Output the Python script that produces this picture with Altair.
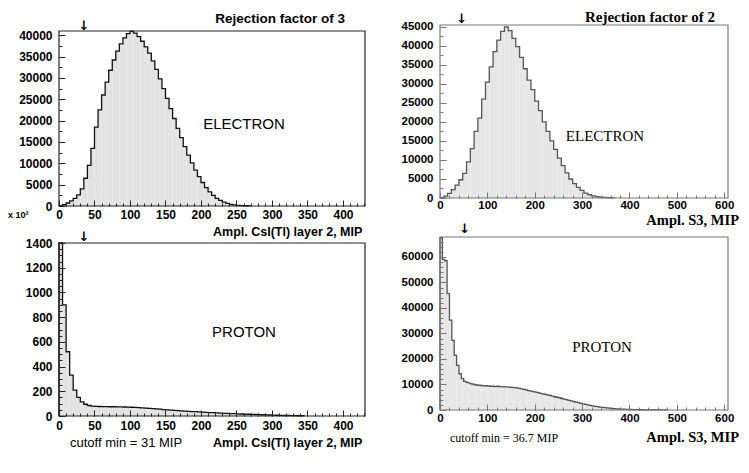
import altair as alt
import pandas as pd

# ---------------- data ----------------
# top-left: ELECTRON, Ampl. CsI(Tl) layer 2 (bin width 5 MIP)
tl_bin = 5
tl_counts = [100, 300, 700, 1200, 1800, 2600, 4000, 6500, 9500, 13500,
             18500, 22500, 26000, 29000, 31800, 34200, 36300, 38000, 39400, 40400,
             40900, 40500, 39700, 38600, 37300, 35800, 34000, 32000, 29800, 27500,
             25200, 22800, 20500, 18200, 16000, 13900, 11900, 10100, 8400, 6900,
             5500, 4300, 3300, 2500, 1800, 1300, 900, 600, 400, 260,
             160, 100, 60, 30]

# bottom-left: PROTON, Ampl. CsI(Tl) layer 2 (x 10^2, bin width 5 MIP)
bl_bin = 5
bl_counts = [1400, 900, 520, 330, 210, 150, 115, 95, 85, 80,
             78, 77, 76, 76, 75, 75, 74, 74, 73, 72,
             71, 70, 68, 66, 64, 62, 60, 57, 55, 52,
             50, 48, 46, 44, 42, 40, 38, 36, 35, 33,
             32, 30, 28, 27, 25, 24, 22, 21, 20, 19,
             18, 16, 15, 14, 13, 12, 11, 10, 9, 8,
             7, 6, 5, 4, 4, 3, 3, 2, 2]

# top-right: ELECTRON, Ampl. S3 (bin width 8 MIP)
tr_bin = 8
tr_counts = [100, 500, 1200, 2200, 3400, 4800, 6500, 9500, 13000, 17500,
             21000, 26000, 30500, 34500, 38500, 41500, 43800, 45000, 44000, 42000,
             39800, 37000, 34000, 31000, 28500, 25500, 23000, 20000, 17500, 15000,
             12800, 10500, 8500, 6600, 5000, 3800, 2800, 2000, 1300, 850,
             550, 350, 250, 150, 100, 50]

# bottom-right: PROTON, Ampl. S3 (bin width 5 MIP)
br_bin = 5
br_counts = [67500, 59000, 58500, 45600, 35200, 27300, 21400, 17500, 14200, 12300,
             11200, 10800, 10500, 10200, 10000, 9800, 9700, 9600, 9500, 9500,
             9400, 9300, 9300, 9200, 9300, 9200, 9200, 9100, 9100, 9000,
             8900, 8800, 8700, 8500, 8300, 8100, 7900, 7600, 7400, 7200,
             7000, 6800, 6500, 6300, 6100, 5900, 5700, 5400, 5200, 5000,
             4800, 4500, 4300, 4100, 3800, 3600, 3300, 3100, 2900, 2600,
             2400, 2200, 2000, 1800, 1600, 1450, 1300, 1150, 1000, 900,
             800, 700, 600, 520, 450, 400, 350, 300, 260, 220,
             190, 160, 140, 120, 100, 90, 80, 70, 60, 50,
             40, 35, 30, 25, 20, 10]

left_x_ticks = [0, 50, 100, 150, 200, 250, 300, 350, 400]
left_x_minor = list(range(0, 431, 10))
right_x_ticks = [0, 100, 200, 300, 400, 500, 600]
right_x_minor = list(range(0, 609, 20))
tl_y_ticks = [0, 5000, 10000, 15000, 20000, 25000, 30000, 35000, 40000]
tl_y_minor = list(range(0, 41001, 2500))
bl_y_ticks = [0, 200, 400, 600, 800, 1000, 1200, 1400]
bl_y_minor = list(range(0, 1401, 50))
tr_y_ticks = [0, 5000, 10000, 15000, 20000, 25000, 30000, 35000, 40000, 45000]
tr_y_minor = list(range(0, 45501, 2500))
br_y_ticks = [0, 10000, 20000, 30000, 40000, 50000, 60000]
br_y_minor = list(range(0, 67801, 2000))

# cutoff arrows (positions, MIP)
tl_arrow, bl_arrow, tr_arrow, br_arrow = 35, 35, 46, 52

SANS = "Liberation Sans"
SERIF = "Liberation Serif"
W, H = 733, 457


def text_layer(t, x, y, font, size, weight="normal", align="center"):
    return alt.Chart(pd.DataFrame({"t": [t]})).mark_text(
        font=font, fontSize=size, fontWeight=weight, align=align,
        baseline="middle", color="black"
    ).encode(text="t:N", x=alt.value(x), y=alt.value(y))


def panel(bin_w, counts, xmax, ymax, box, xmaj, xmin, ymaj, ymin,
          line_c, fill_c, frame_c, arrow_x, arrow_y, xlab_pad, lab_size):
    x0, y0, x1, y1 = box  # view pixels: left, top, right, bottom
    xs = [0] + [i * bin_w for i in range(len(counts))] + [len(counts) * bin_w]
    ys = [0] + counts + [0]
    df = pd.DataFrame({"x": xs, "y": ys, "i": list(range(len(xs)))})
    xsc = alt.Scale(domain=[0, xmax], range=[x0, x1], nice=False, zero=False)
    ysc = alt.Scale(domain=[0, ymax], range=[y1, y0], nice=False, zero=False)
    common = dict(labelFont=SANS, labelFontWeight="bold", labelFontSize=lab_size,
                  labelColor="black", domain=False, grid=False, title=None,
                  tickColor=frame_c, zindex=1, labelFlush=False)
    xa = alt.Axis(values=xmaj, tickSize=6, offset=y1 - 6 - H, labelPadding=xlab_pad,
                  orient="bottom", **common)
    ya = alt.Axis(values=ymaj, tickSize=6, offset=-(x0 + 6), labelPadding=7,
                  orient="left", format="d", **common)
    mcommon = dict(labels=False, domain=False, grid=False, title=None,
                   tickColor=frame_c, zindex=1, tickSize=3)
    xma = alt.Axis(values=xmin, offset=y1 - 3 - H, orient="bottom", **mcommon)
    yma = alt.Axis(values=ymin, offset=-(x0 + 3), orient="left", **mcommon)

    base = alt.Chart(df)
    area = base.mark_area(interpolate="step-after", color=fill_c).encode(
        x=alt.X("x:Q", scale=xsc, axis=xa),
        y=alt.Y("y:Q", scale=ysc, axis=ya),
        order="i:Q")
    line = base.mark_line(interpolate="step-after", color=line_c,
                          strokeWidth=1.3).encode(
        x=alt.X("x:Q", scale=xsc, axis=None),
        y=alt.Y("y:Q", scale=ysc, axis=None), order="i:Q")
    frame = alt.Chart(pd.DataFrame({"a": [0], "b": [xmax], "c": [0], "d": [ymax]})).mark_rect(
        fillOpacity=0, stroke=frame_c, strokeWidth=1.2).encode(
        x=alt.X("a:Q", scale=xsc, axis=xma), x2="b:Q",
        y=alt.Y("c:Q", scale=ysc, axis=yma), y2="d:Q")
    arrow = alt.Chart(pd.DataFrame({"x": [arrow_x]})).mark_text(
        text="↓", font="DejaVu Sans", fontSize=13, fontWeight="bold",
        baseline="middle", color="black"
    ).encode(x=alt.X("x:Q", scale=xsc, axis=None), y=alt.value(arrow_y))
    return [area, line, frame, arrow]


layers = []
# top-left
layers += panel(tl_bin, tl_counts, 431, 41000, (51, 23, 357, 198),
                left_x_ticks, left_x_minor, tl_y_ticks, tl_y_minor,
                "#111111", "#e2e2e2", "#222222", tl_arrow, 18, 3, 12)
# bottom-left
layers += panel(bl_bin, bl_counts, 431, 1400, (51, 235, 357, 408),
                left_x_ticks, left_x_minor, bl_y_ticks, bl_y_minor,
                "#111111", "#e2e2e2", "#222222", bl_arrow, 229, 4, 12)
# top-right
layers += panel(tr_bin, tr_counts, 608, 45500, (432, 17, 720, 190),
                right_x_ticks, right_x_minor, tr_y_ticks, tr_y_minor,
                "#555555", "#e6e6e6", "#777777", tr_arrow, 11, 1, 11.5)
# bottom-right
layers += panel(br_bin, br_counts, 608, 67800, (432, 229, 720, 402),
                right_x_ticks, right_x_minor, br_y_ticks, br_y_minor,
                "#555555", "#e6e6e6", "#777777", br_arrow, 221, 2, 11.5)

layers += [
    text_layer("Rejection factor of 3", 337, 11, SANS, 13.5, "bold", "right"),
    text_layer("ELECTRON", 236, 116, SANS, 15),
    text_layer("Ampl. CsI(Tl) layer 2, MIP", 205, 224, SANS, 12.5, "bold", "left"),
    text_layer("x 10²", 0, 207, SANS, 9, "bold", "left"),
    text_layer("PROTON", 236, 324, SANS, 15),
    text_layer("Ampl. CsI(Tl) layer 2, MIP", 205, 435, SANS, 12.5, "bold", "left"),
    text_layer("cutoff min = 31 MIP", 62, 435, SANS, 13, "normal", "left"),
    text_layer("Rejection factor of 2", 707, 9, SERIF, 15, "bold", "right"),
    text_layer("ELECTRON", 597, 128, SERIF, 15),
    text_layer("Ampl. S3, MIP", 731, 213, SERIF, 14.5, "bold", "right"),
    text_layer("PROTON", 594, 339, SERIF, 15),
    text_layer("Ampl. S3, MIP", 731, 430, SERIF, 14.5, "bold", "right"),
    text_layer("cutoff min = 36.7 MIP", 442, 430, SERIF, 12, "normal", "left"),
]

chart = alt.layer(*layers).resolve_scale(
    x="independent", y="independent"
).resolve_axis(
    x="independent", y="independent"
).properties(
    width=W, height=H, padding=0,
    autosize=alt.AutoSizeParams(type="none"),
    background="white",
).configure_view(stroke=None)

chart.save("out.html", embed_options={"renderer": "svg", "actions": False})
